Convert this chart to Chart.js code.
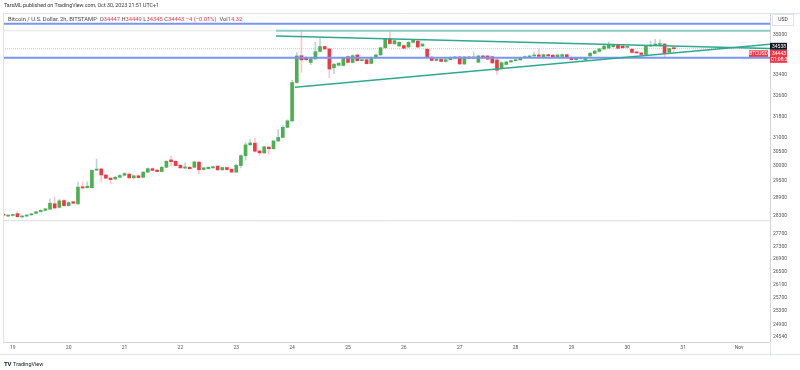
<!DOCTYPE html>
<html>
<head>
<meta charset="utf-8">
<script src="https://cdn.jsdelivr.net/npm/chart.js@4.4.1/dist/chart.umd.min.js"></script>
<style>
  html, body { margin: 0; padding: 0; background: #fff; }
  #wrap { position: relative; width: 800px; height: 370px; overflow: hidden; font-family: Roboto, 'Liberation Sans', sans-serif; }
  #chart { position: absolute; left: 0; top: 0; }
  .credit { position: absolute; left: 4px; top: 2px; font-size: 5.3px; color: #333; white-space: nowrap; }
  .legend { position: absolute; left: 8px; top: 16px; font-size: 5.8px; color: #444; white-space: nowrap; }
  .legend .v { color: #f23645; }
  .footer { position: absolute; left: 4px; top: 360px; font-size: 5.5px; color: #131722; white-space: nowrap; }
  .footer b { font-size: 6px; letter-spacing: -0.3px; margin-right: 2px; }
</style>
</head>
<body>
<div id="wrap">
  <canvas id="chart" width="800" height="370"></canvas>
  <div class="credit">TarsML published on TradingView.com, Oct 30, 2023 21:51 UTC+1</div>
  <div class="legend">Bitcoin / U.S. Dollar, 2h, BITSTAMP&nbsp; O<span class="v">34447</span> H<span class="v">34449</span> L<span class="v">34345</span> C<span class="v">34443</span> <span class="v">−4 (−0.01%)</span>&nbsp; Vol<span class="v">14.32</span></div>
  <div class="footer"><b>TV</b>TradingView</div>
</div>
<script>
// 2h bars, first bar = Oct 18 20:00 (bar index -2, Oct 19 00:00 = 0)
const firstBar = -2;
const opens = [
  28350,28290,28310,28370,28260,28290,28330,28380,28440,28480,
  28520,28700,28580,28810,28640,28770,28700,29280,29250,29250,
  29860,29900,29690,29580,29550,29610,29680,29720,29590,29660,
  29610,29790,29910,29860,29810,29960,30220,30170,30030,29930,
  29960,29960,30140,29880,29910,29940,30000,29870,29950,29890,
  29790,30020,30370,30760,30820,30540,30470,30680,30620,30900,
  31030,31400,31640,33100,34160,34080,33890,34030,34330,34530,
  34430,33680,33780,33770,34120,33890,34190,33960,34000,33850,
  34080,34190,34480,34840,34640,34550,34570,34510,34700,34750,
  34550,34420,34100,33970,34010,33930,34000,34060,34110,33830,
  34110,34070,33900,34150,34150,34120,33990,33650,33810,33910,
  33960,33990,34080,34110,34150,34190,34120,34200,34180,34120,
  34130,34200,34090,34000,34050,34000,34150,34250,34330,34430,
  34470,34520,34590,34550,34500,34420,34310,34270,34210,34550,
  34590,34610,34630,34300,34447
];
const highs = [
  28380,28330,28360,28440,28300,28340,28380,28450,28500,28550,
  28870,28930,28850,28860,28770,28790,29440,29450,29450,29880,
  30250,29930,29710,29600,29640,29700,29770,29760,29690,29690,
  29810,29940,29940,29890,29990,30200,30360,30200,30060,30120,
  29990,30180,30170,29960,29980,30000,30020,29970,29970,29910,
  30060,30400,30850,30950,31000,30570,30710,30700,30930,31330,
  31460,31680,33180,34290,35130,34120,34060,34700,34850,34560,
  34450,33850,33880,34100,34150,34200,34220,34030,34030,34110,
  34220,34510,34870,35120,34800,34730,34600,34730,34820,34780,
  34660,34450,34130,34040,34040,34030,34120,34130,34140,34140,
  34130,34300,34180,34180,34170,34140,34010,33910,33940,33990,
  34030,34110,34150,34180,34300,34430,34230,34230,34210,34220,
  34230,34230,34120,34100,34110,34100,34290,34380,34460,34580,
  34720,34620,34620,34570,34560,34450,34330,34290,34580,34750,
  34820,34800,34660,34450,34449
];
const lows = [
  28290,28270,28290,28240,28230,28270,28310,28360,28420,28460,
  28500,28530,28560,28600,28620,28700,28680,29210,29230,29230,
  29840,29450,29550,29380,29520,29590,29660,29570,29570,29570,
  29590,29770,29830,29790,29790,29940,30010,30000,29920,29910,
  29890,29940,29730,29860,29890,29920,29850,29850,29860,29770,
  29770,29940,30210,30740,30500,30380,30450,30430,30600,30880,
  31010,31380,31600,33060,33500,33960,33800,34000,34310,34400,
  33290,33450,33740,33750,33870,33870,33940,33940,33820,33830,
  34060,34170,34460,34620,34620,34530,34440,34490,34680,34490,
  34530,34070,33940,33950,33910,33900,33980,34040,33800,33800,
  34040,34040,33880,34050,34000,33840,33420,33620,33790,33890,
  33940,33970,34060,34090,34130,34110,34100,34130,34100,34100,
  34110,34100,33980,33980,34030,33980,34130,34230,34310,34410,
  34450,34500,34440,34460,34480,34270,34250,34190,34190,34530,
  34570,34590,34110,34280,34345
];
const closes = [
  28320,28310,28340,28270,28280,28320,28360,28430,28480,28530,
  28720,28560,28800,28640,28740,28720,29270,29240,29300,29850,
  29880,29690,29580,29530,29610,29670,29740,29590,29660,29600,
  29790,29910,29850,29810,29960,30170,30160,30020,29940,29970,
  29910,30150,29870,29940,29960,29980,29870,29950,29880,29790,
  30030,30370,30760,30830,30530,30470,30690,30620,30900,31030,
  31400,31640,33100,34150,33990,34000,34040,34320,34530,34430,
  33630,33820,33860,34080,33890,34160,33960,34000,33840,34080,
  34190,34480,34840,34650,34770,34700,34460,34700,34790,34510,
  34630,34100,33970,34010,33930,34000,34090,34110,33830,34110,
  34060,34110,34150,34070,34020,33870,33580,33880,33910,33960,
  34000,34080,34120,34150,34190,34130,34200,34150,34120,34190,
  34200,34120,34000,34070,34090,34070,34260,34350,34430,34550,
  34590,34590,34460,34480,34530,34290,34270,34210,34550,34590,
  34630,34630,34250,34447,34443
];

const dayLabels = ['19','20','21','22','23','24','25','26','27','28','29','30','31','Nov'];
const barsPerDay = 12;
const priceTicks = [35000,33400,32600,31800,31000,30500,30000,29500,28900,28300,27700,27300,26900,26500,26100,25700,25300,24900,24540];

// drawings: [barIndex, price]
const blueLevels = [35470, 34080];
const greyLevel = 28134;
const topLevel = 35177;
const topLevelStart = 56.55;
const fallingLine = [[56.55, 34959], [162.65, 34448]];
const risingLine = [[60.63, 32913], [162.65, 34619]];
const lastPrice = 34443;
const markPrice = 34538;

const xMin = -2.1, xMax = 162.65;
const yMin = 24396, yMax = 35918;

const GREEN = '#4caf50', RED = '#f23645';

const bodies = [], wicks = [], bodyColors = [], wickColors = [];
opens.forEach((o, i) => {
  const x = firstBar + i;
  const up = closes[i] >= o;
  bodies.push({ x: x, y: [o, closes[i]] });
  wicks.push({ x: x, y: [lows[i], highs[i]] });
  bodyColors.push(up ? GREEN : RED);
  wickColors.push(up ? 'rgba(120,170,200,0.5)' : 'rgba(242,54,69,0.28)');
});

function level(price, from, to, color, width, dash) {
  return {
    type: 'line', data: [{ x: from, y: price }, { x: to, y: price }],
    borderColor: color, borderWidth: width, borderDash: dash || [],
    pointRadius: 0, order: 0
  };
}
function segment(pts, color, width) {
  return {
    type: 'line', data: pts.map(p => ({ x: p[0], y: p[1] })),
    borderColor: color, borderWidth: width, pointRadius: 0, order: 0
  };
}

const overlay = {
  id: 'overlay',
  afterDraw(chart) {
    const { ctx, chartArea: a, scales: { y } } = chart;
    ctx.save();
    ctx.strokeStyle = '#e0e3eb';
    ctx.lineWidth = 1;
    ctx.beginPath();
    ctx.moveTo(a.left + 0.5, a.top + 0.5); ctx.lineTo(800, a.top + 0.5);
    ctx.moveTo(a.left + 0.5, a.top); ctx.lineTo(a.left + 0.5, a.bottom);
    ctx.moveTo(0, 354.5); ctx.lineTo(800, 354.5);
    ctx.moveTo(a.right + 0.5, a.bottom); ctx.lineTo(a.right + 0.5, 356);
    ctx.stroke();

    // USD box
    ctx.strokeRect(772.5, 14.5, 21, 11);
    ctx.fillStyle = '#333';
    ctx.font = '5px Roboto';
    ctx.textAlign = 'center';
    ctx.textBaseline = 'middle';
    ctx.fillText('USD', 783, 20);

    // mark price label
    const my = y.getPixelForValue(markPrice);
    ctx.fillStyle = '#131722';
    ctx.fillRect(770, my - 3.5, 17, 7);
    ctx.fillStyle = '#fff';
    ctx.textAlign = 'left';
    ctx.fillText(String(markPrice), 772, my);

    // last price label
    const top = my + 3.5;
    ctx.fillStyle = RED;
    ctx.fillRect(770, top, 17, 13);
    ctx.fillStyle = '#fff';
    ctx.fillText(String(lastPrice), 772, top + 3.5);
    ctx.fillText('01:08:32', 771, top + 9.5);

    // symbol tag
    ctx.fillStyle = RED;
    ctx.fillRect(749, top + 0.5, 19, 6.5);
    ctx.fillStyle = '#fff';
    ctx.textAlign = 'center';
    ctx.fillText('BTCUSD', 758.5, top + 4);
    ctx.restore();
  }
};

new Chart(document.getElementById('chart'), {
  type: 'bar',
  data: {
    datasets: [
      level(lastPrice, xMin, xMax, 'rgba(242,54,69,0.35)', 1, [1, 1]),
      level(greyLevel, xMin, xMax, '#d8dbe2', 1),
      level(topLevel, xMin, topLevelStart, '#e3e5ea', 1),
      level(topLevel, topLevelStart, xMax, 'rgba(38,166,154,0.55)', 2),
      segment(fallingLine, '#2fa88f', 1.5),
      segment(risingLine, '#2fa88f', 1.5),
      level(blueLevels[0], xMin, xMax, '#7895f2', 2),
      level(blueLevels[1], xMin, xMax, '#7895f2', 2),
      {
        data: bodies, backgroundColor: bodyColors, barThickness: 3,
        minBarLength: 1, grouped: false, order: 1
      },
      {
        data: wicks, backgroundColor: wickColors, barThickness: 1,
        grouped: false, order: 2
      }
    ]
  },
  options: {
    responsive: false,
    animation: false,
    devicePixelRatio: 1,
    layout: { padding: { left: 3, top: 13, right: 0, bottom: 16 } },
    plugins: { legend: { display: false }, tooltip: { enabled: false } },
    scales: {
      x: {
        type: 'linear', min: xMin, max: xMax, offset: false,
        grid: { display: false, drawTicks: false },
        border: { display: true, color: '#d1d4dc' },
        afterBuildTicks: s => { s.ticks = dayLabels.map((_, i) => ({ value: i * barsPerDay })); },
        afterFit: s => { s.height = 12; },
        ticks: {
          autoSkip: false, maxRotation: 0, padding: 3,
          color: '#555', font: { size: 5, family: 'Roboto' },
          callback: v => dayLabels[Math.round(v / barsPerDay)]
        }
      },
      y: {
        type: 'logarithmic', position: 'right', min: yMin, max: yMax,
        grid: { display: false, drawTicks: false },
        border: { display: true, color: '#d1d4dc' },
        afterBuildTicks: s => { s.ticks = priceTicks.map(v => ({ value: v })); },
        afterFit: s => { s.width = 30; },
        ticks: {
          autoSkip: false, padding: 3,
          color: '#555', font: { size: 5, family: 'Roboto' },
          callback: v => String(v)
        }
      }
    }
  },
  plugins: [overlay]
});
</script>
</body>
</html>
